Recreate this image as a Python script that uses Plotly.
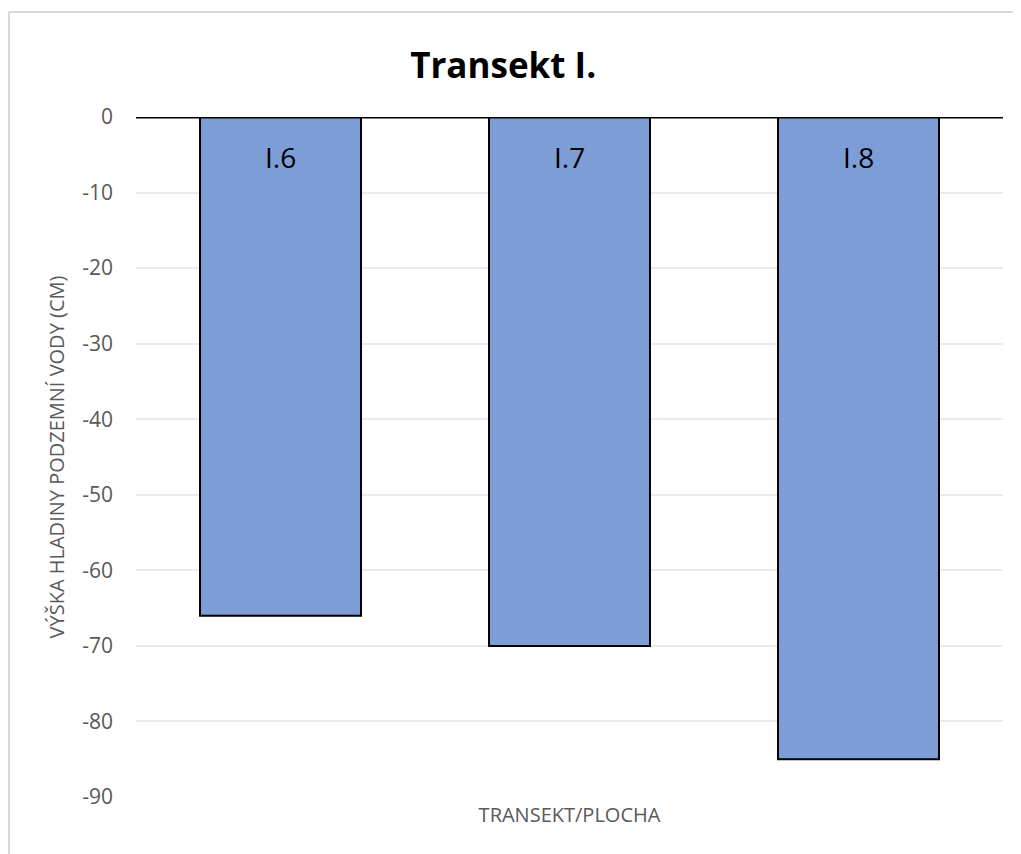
import plotly.graph_objects as go

categories = ["I.6", "I.7", "I.8"]
values = [-66, -70, -85]
tick_vals = [0, -10, -20, -30, -40, -50, -60, -70, -80, -90]
tick_text = ["0", "-10", "-20", "-30", "-40", "-50", "-60", "-70", "-80", "-90"]

FONT = "Open Sans, Noto Sans, sans-serif"
GRAY = "#595959"

fig = go.Figure()
fig.add_trace(go.Bar(
    x=categories,
    y=values,
    marker=dict(color="#7d9dd6", line=dict(color="black", width=2)),
    width=0.557,
    hoverinfo="x+y",
))

# category names as labels inside the top of each bar
for cat in categories:
    fig.add_annotation(x=cat, y=0, text=cat, showarrow=False, yanchor="middle",
                       yshift=-40, font=dict(family=FONT, size=28, color="black"))

# chart border (top and left visible)
fig.add_shape(type="line", xref="paper", yref="paper", x0=-0.1465, x1=1.05, y0=1.1544, y1=1.1544,
              line=dict(color="#d9d9d9", width=2))
fig.add_shape(type="line", xref="paper", yref="paper", x0=-0.1465, x1=-0.1465, y0=1.1544, y1=-0.1,
              line=dict(color="#d9d9d9", width=2))

fig.update_layout(
    width=1021,
    height=854,
    margin=dict(l=128, r=26, t=109, b=65),
    paper_bgcolor="white",
    plot_bgcolor="white",
    showlegend=False,
    font=dict(family=FONT, color=GRAY),
    title=dict(text="<b>Transekt I.</b>", x=0.485, xanchor="center", y=0.932, yanchor="middle",
               font=dict(family=FONT, size=35, color="black")),
    xaxis=dict(
        showticklabels=False,
        showgrid=False,
        title=dict(text="TRANSEKT/PLOCHA", font=dict(size=20, color=GRAY), standoff=10),
    ),
    yaxis=dict(
        range=[-90, 0],
        tickvals=tick_vals,
        ticktext=tick_text,
        tickfont=dict(size=21, color=GRAY),
        gridcolor="#ebebeb",
        gridwidth=1.5,
        zeroline=False,
        ticks="",
        ticklabelstandoff=22,
        title=dict(text="VÝŠKA HLADINY PODZEMNÍ VODY (CM)", font=dict(size=20, color=GRAY), standoff=12),
    ),
    bargap=0.443,
)

# black zero line across the top of the plot
fig.add_hline(y=0, line_color="black", line_width=3)

fig.write_html("out.html")
